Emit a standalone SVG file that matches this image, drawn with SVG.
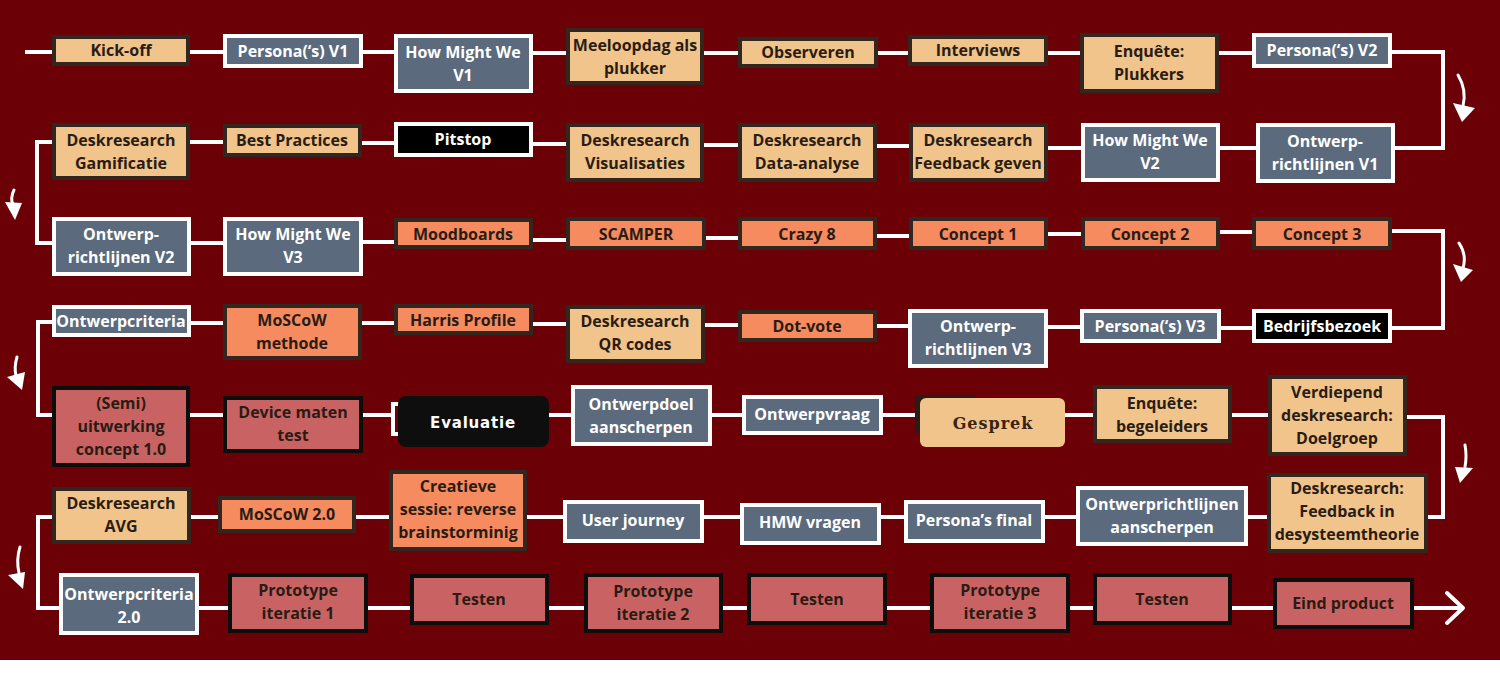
<svg xmlns="http://www.w3.org/2000/svg" width="1500" height="683" viewBox="0 0 1500 683">
<style>
.bg{fill:#6b0106}
.tan{fill:#f0c48a;stroke:#33261f;stroke-width:4}
.org{fill:#f58b5f;stroke:#33261f;stroke-width:4}
.red{fill:#c96363;stroke:#0d0d0d;stroke-width:4}
.sl{fill:#5b6a7d;stroke:#ffffff;stroke-width:4}
.blk{fill:#000000;stroke:#ffffff;stroke-width:4}
text{font-family:"Open Sans","Liberation Sans",sans-serif;font-weight:700;font-size:16px;text-anchor:middle}
.d{fill:#2a1c14}
.w{fill:#ffffff}
.con path{fill:none;stroke:#ffffff;stroke-width:4}
.arr path{fill:none;stroke:#ffffff;stroke-width:3;stroke-linecap:round}
.arr polygon{fill:#ffffff}
</style>
<rect class="bg" x="0" y="0" width="1500" height="660"/>
<rect x="0" y="660" width="1500" height="23" fill="#ffffff"/>
<g class="con">
<path d="M25,52 H52 M190,52 H223 M363,52 H394 M533,53 H566 M704,53 H738 M878,53 H908 M1048,53 H1080 M1219,53 H1252 M1392,52 H1443 V148 H1395"/>
<path d="M1256,148 H1220 M1081,148 H1048 M909,146 H877 M738,145 H704 M566,144 H533 M394,143 H362 M223,142 H190 M52,142 H37 V243 H52"/>
<path d="M191,243 H223 M363,242 H394 M533,240 H566 M706,238 H738 M877,236 H909 M1048,234 H1081 M1220,232 H1252 M1392,231 H1443 V328 H1392"/>
<path d="M1252,328 H1221 M1080,327 H1048 M908,326 H877 M738,325 H705 M566,324 H533 M394,323 H362 M223,323 H191 M52,322 H38 V415 H52"/>
<path d="M190,415 H223 M363,415 H392 M549,415 H571 M712,415 H742 M883,415 H915 M1065,415 H1093 M1232,415 H1268 M1407,417 H1443 V517 H1428"/>
<path d="M1267,517 H1248 M1076,517 H1045 M904,517 H881 M740,517 H704 M563,517 H527 M389,517 H356 M218,517 H191 M52,517 H38 V608 H59"/>
<path d="M199,608 H228 M368,608 H410 M549,608 H584 M723,608 H747 M887,608 H930 M1070,608 H1093 M1232,608 H1273 M1414,608 H1462"/>
<path d="M1447,593 L1463,608 L1447,623" stroke-linecap="round" stroke-linejoin="round"/>
</g>
<g class="arr">
<path d="M1458,75 Q1467,90 1463,106"/><polygon points="1453,103 1475,108 1462,122"/>
<path d="M14,190 Q10,198 13,205"/><polygon points="5,202 22,203 15,220"/>
<path d="M1459,243 Q1467,255 1463,268"/><polygon points="1453,264 1473,270 1461,282"/>
<path d="M17,357 Q14,367 16,376"/><polygon points="7,377 25,372 22,390"/>
<path d="M1465,445 Q1467,456 1465,467"/><polygon points="1455,467 1473,468 1460,483"/>
<path d="M20,547 Q16,560 19,573"/><polygon points="8,575 25,572 23,589"/>
</g>
<g id="n1"><rect class="tan" x="54" y="37" width="134" height="27"/><text class="d" x="121" y="56">Kick-off</text></g>
<g id="n2"><rect class="sl" x="225" y="36" width="136" height="30"/><text class="w" x="293" y="57">Persona(‘s) V1</text></g>
<g id="n3"><rect class="sl" x="396" y="36" width="135" height="55"/><text class="w" x="463" y="58">How Might We</text><text class="w" x="463" y="81">V1</text></g>
<g id="n4"><rect class="tan" x="568" y="30" width="134" height="53"/><text class="d" x="635" y="51">Meeloopdag als</text><text class="d" x="635" y="74">plukker</text></g>
<g id="n5"><rect class="tan" x="740" y="39" width="136" height="27"/><text class="d" x="808" y="58">Observeren</text></g>
<g id="n6"><rect class="tan" x="910" y="37" width="136" height="27"/><text class="d" x="978" y="56">Interviews</text></g>
<g id="n7"><rect class="tan" x="1082" y="35" width="135" height="56"/><text class="d" x="1149" y="57">Enquête:</text><text class="d" x="1149" y="80">Plukkers</text></g>
<g id="n8"><rect class="sl" x="1254" y="35" width="136" height="31"/><text class="w" x="1322" y="56">Persona(‘s) V2</text></g>
<g id="n9"><rect class="tan" x="54" y="125" width="134" height="53"/><text class="d" x="121" y="146">Deskresearch</text><text class="d" x="121" y="169">Gamificatie</text></g>
<g id="n10"><rect class="tan" x="225" y="126" width="135" height="29"/><text class="d" x="292" y="146">Best Practices</text></g>
<g id="n11"><rect class="blk" x="396" y="124" width="135" height="31"/><text class="w" x="463" y="145">Pitstop</text></g>
<g id="n12"><rect class="tan" x="568" y="125" width="134" height="55"/><text class="d" x="635" y="146">Deskresearch</text><text class="d" x="635" y="169">Visualisaties</text></g>
<g id="n13"><rect class="tan" x="740" y="125" width="135" height="55"/><text class="d" x="807" y="146">Deskresearch</text><text class="d" x="807" y="169">Data-analyse</text></g>
<g id="n14"><rect class="tan" x="911" y="125" width="135" height="55"/><text class="d" x="978" y="146">Deskresearch</text><text class="d" x="978" y="169">Feedback geven</text></g>
<g id="n15"><rect class="sl" x="1083" y="125" width="135" height="55"/><text class="w" x="1150" y="146">How Might We</text><text class="w" x="1150" y="169">V2</text></g>
<g id="n16"><rect class="sl" x="1258" y="125" width="135" height="56"/><text class="w" x="1325" y="147">Ontwerp-</text><text class="w" x="1325" y="170">richtlijnen V1</text></g>
<g id="n17"><rect class="sl" x="54" y="219" width="135" height="55"/><text class="w" x="121" y="240">Ontwerp-</text><text class="w" x="121" y="263">richtlijnen V2</text></g>
<g id="n18"><rect class="sl" x="225" y="219" width="136" height="55"/><text class="w" x="293" y="240">How Might We</text><text class="w" x="293" y="263">V3</text></g>
<g id="n19"><rect class="org" x="396" y="220" width="135" height="27"/><text class="d" x="463" y="240">Moodboards</text></g>
<g id="n20"><rect class="org" x="568" y="219" width="136" height="29"/><text class="d" x="636" y="240">SCAMPER</text></g>
<g id="n21"><rect class="org" x="740" y="219" width="135" height="29"/><text class="d" x="807" y="240">Crazy 8</text></g>
<g id="n22"><rect class="org" x="911" y="219" width="135" height="29"/><text class="d" x="978" y="240">Concept 1</text></g>
<g id="n23"><rect class="org" x="1083" y="219" width="135" height="29"/><text class="d" x="1150" y="240">Concept 2</text></g>
<g id="n24"><rect class="org" x="1254" y="219" width="136" height="29"/><text class="d" x="1322" y="240">Concept 3</text></g>
<g id="n25"><rect class="sl" x="54" y="307" width="135" height="28"/><text class="w" x="121" y="327">Ontwerpcriteria</text></g>
<g id="n26"><rect class="org" x="225" y="306" width="135" height="52"/><text class="d" x="292" y="326">MoSCoW</text><text class="d" x="292" y="349">methode</text></g>
<g id="n27"><rect class="org" x="396" y="306" width="135" height="27"/><text class="d" x="463" y="326">Harris Profile</text></g>
<g id="n28"><rect class="tan" x="568" y="307" width="135" height="54"/><text class="d" x="635" y="327">Deskresearch</text><text class="d" x="635" y="350">QR codes</text></g>
<g id="n29"><rect class="org" x="740" y="312" width="135" height="28"/><text class="d" x="807" y="332">Dot-vote</text></g>
<g id="n30"><rect class="sl" x="910" y="311" width="136" height="55"/><text class="w" x="978" y="332">Ontwerp-</text><text class="w" x="978" y="355">richtlijnen V3</text></g>
<g id="n31"><rect class="sl" x="1082" y="311" width="137" height="30"/><text class="w" x="1150" y="332">Persona(‘s) V3</text></g>
<g id="n32"><rect class="blk" x="1254" y="311" width="136" height="30"/><text class="w" x="1322" y="332">Bedrijfsbezoek</text></g>
<g id="n33"><rect class="red" x="54" y="388" width="134" height="77"/><text class="d" x="121" y="409">(Semi)</text><text class="d" x="121" y="432">uitwerking</text><text class="d" x="121" y="455">concept 1.0</text></g>
<g id="n34"><rect class="red" x="225" y="398" width="136" height="53"/><text class="d" x="293" y="418">Device maten</text><text class="d" x="293" y="441">test</text></g>
<g id="n35"><rect x="393" y="404" width="30" height="30" fill="none" stroke="#ffffff" stroke-width="4"/><rect x="398" y="396" width="151" height="51" rx="8" fill="#0e0e0e"/><text x="473" y="428" style="fill:#ffffff;font-family:'DejaVu Sans',sans-serif;font-weight:700;font-size:15px;letter-spacing:0.8px">Evaluatie</text></g>
<g id="n36"><rect class="sl" x="573" y="387" width="137" height="57"/><text class="w" x="641" y="410">Ontwerpdoel</text><text class="w" x="641" y="433">aanscherpen</text></g>
<g id="n37"><rect class="sl" x="744" y="397" width="137" height="36"/><text class="w" x="812" y="420">Ontwerpvraag</text></g>
<g id="n38"><rect x="915" y="395" width="60" height="38" fill="#2a1c14"/><rect x="920" y="398" width="145" height="49" rx="6" fill="#f0c48a"/><text x="993" y="429" style="fill:#3b230f;font-family:'DejaVu Serif',serif;font-weight:700;font-size:16px;letter-spacing:1px">Gesprek</text></g>
<g id="n39"><rect class="tan" x="1095" y="387" width="135" height="54"/><text class="d" x="1162" y="409">Enquête:</text><text class="d" x="1162" y="432">begeleiders</text></g>
<g id="n40"><rect class="tan" x="1270" y="377" width="135" height="77"/><text class="d" x="1337" y="398">Verdiepend</text><text class="d" x="1337" y="421">deskresearch:</text><text class="d" x="1337" y="444">Doelgroep</text></g>
<g id="n41"><rect class="tan" x="54" y="489" width="135" height="53"/><text class="d" x="121" y="509">Deskresearch</text><text class="d" x="121" y="532">AVG</text></g>
<g id="n42"><rect class="org" x="220" y="498" width="134" height="33"/><text class="d" x="287" y="520">MoSCoW 2.0</text></g>
<g id="n43"><rect class="org" x="391" y="472" width="134" height="77"/><text class="d" x="458" y="492">Creatieve</text><text class="d" x="458" y="515">sessie: reverse</text><text class="d" x="458" y="538">brainstorminig</text></g>
<g id="n44"><rect class="sl" x="565" y="502" width="137" height="39"/><text class="w" x="633" y="526">User journey</text></g>
<g id="n45"><rect class="sl" x="742" y="505" width="137" height="38"/><text class="w" x="810" y="528">HMW vragen</text></g>
<g id="n46"><rect class="sl" x="906" y="502" width="137" height="39"/><text class="w" x="974" y="526">Persona’s final</text></g>
<g id="n47"><rect class="sl" x="1078" y="488" width="168" height="56"/><text class="w" x="1162" y="510">Ontwerprichtlijnen</text><text class="w" x="1162" y="533">aanscherpen</text></g>
<g id="n48"><rect class="tan" x="1269" y="475" width="157" height="76"/><text class="d" x="1347" y="494">Deskresearch:</text><text class="d" x="1347" y="517">Feedback in</text><text class="d" x="1347" y="540">desysteemtheorie</text></g>
<g id="n49"><rect class="sl" x="61" y="575" width="136" height="58"/><text class="w" x="129" y="600">Ontwerpcriteria</text><text class="w" x="129" y="623">2.0</text></g>
<g id="n50"><rect class="red" x="230" y="575" width="136" height="56"/><text class="d" x="298" y="596">Prototype</text><text class="d" x="298" y="619">iteratie 1</text></g>
<g id="n51"><rect class="red" x="412" y="576" width="135" height="47"/><text class="d" x="479" y="605">Testen</text></g>
<g id="n52"><rect class="red" x="586" y="575" width="135" height="56"/><text class="d" x="653" y="597">Prototype</text><text class="d" x="653" y="620">iteratie 2</text></g>
<g id="n53"><rect class="red" x="749" y="575" width="136" height="48"/><text class="d" x="817" y="605">Testen</text></g>
<g id="n54"><rect class="red" x="932" y="575" width="136" height="56"/><text class="d" x="1000" y="596">Prototype</text><text class="d" x="1000" y="619">iteratie 3</text></g>
<g id="n55"><rect class="red" x="1095" y="575" width="135" height="48"/><text class="d" x="1162" y="605">Testen</text></g>
<g id="n56"><rect class="red" x="1275" y="580" width="137" height="47"/><text class="d" x="1343" y="609">Eind product</text></g>
</svg>
